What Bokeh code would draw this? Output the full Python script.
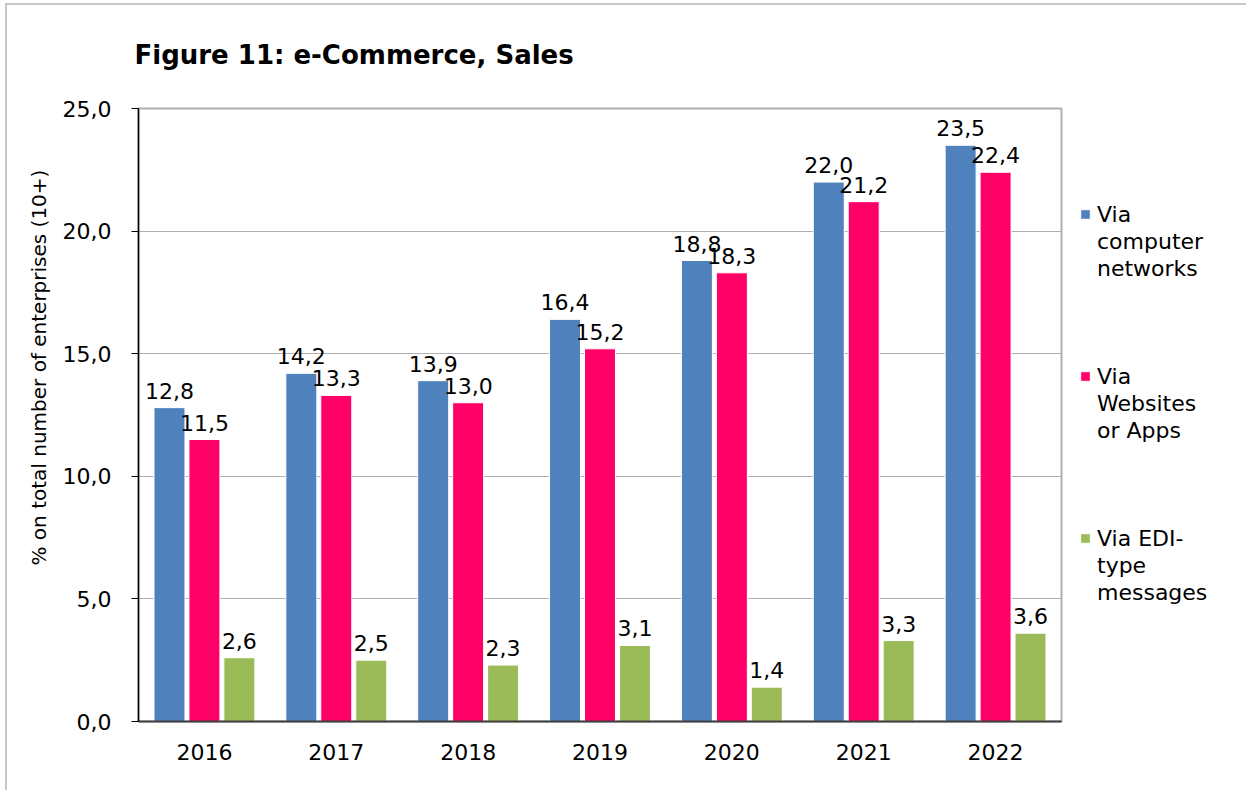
from bokeh.plotting import figure
from bokeh.models import (ColumnDataSource, FactorRange, Range1d, FixedTicker,
                          CustomJSTickFormatter, Legend, LegendItem, Title)
from bokeh.transform import dodge
from bokeh.core.properties import value
from bokeh.embed import file_html
from bokeh.resources import INLINE

# ---- data ----
years = ["2016", "2017", "2018", "2019", "2020", "2021", "2022"]
computer_networks = [12.8, 14.2, 13.9, 16.4, 18.8, 22.0, 23.5]
websites_apps = [11.5, 13.3, 13.0, 15.2, 18.3, 21.2, 22.4]
edi_messages = [2.6, 2.5, 2.3, 3.1, 1.4, 3.3, 3.6]
legend_lines = [["Via", "computer", "networks"],
                ["Via", "Websites", "or Apps"],
                ["Via EDI-", "type", "messages"]]
y_ticks = [0, 5, 10, 15, 20, 25]
title_text = "Figure  11: e-Commerce, Sales"
y_label = "% on total number of enterprises (10+)"

colors = ["#4F81BD", "#FF0066", "#9BBB59"]
FONT = "DejaVu Sans"
NB = "\u00a0"


def fmt(v):
    return f"{v:.1f}".replace(".", ",")


source = ColumnDataSource(data=dict(
    years=years,
    cn=computer_networks, wa=websites_apps, edi=edi_messages,
    cn_t=[fmt(v) for v in computer_networks],
    wa_t=[fmt(v) for v in websites_apps],
    edi_t=[fmt(v) for v in edi_messages],
))

p = figure(frame_width=923, frame_height=613, x_range=FactorRange(*years),
           y_range=Range1d(0, 25), output_backend="svg", toolbar_location=None,
           min_border_left=131, min_border_right=181, min_border_top=103,
           min_border_bottom=69, background_fill_color="white",
           border_fill_color="white", title=None,
           styles={"margin-left": "5px", "margin-top": "3px",
                   "border-left": "2px solid #c8c8c8", "border-top": "2px solid #c8c8c8"})

offsets = [-0.265, 0.0, 0.265]
fields = ["cn", "wa", "edi"]
renderers = []
for off, f, c in zip(offsets, fields, colors):
    r = p.vbar(x=dodge("years", off, range=p.x_range), top=f, width=0.235,
               source=source, fill_color=c, line_color="white", line_width=1)
    renderers.append(r)
    p.text(x=dodge("years", off, range=p.x_range), y=f, text=f + "_t",
           source=source, text_align="center", text_baseline="alphabetic",
           y_offset=-17, text_font=value(FONT), text_font_size="22px",
           text_color="black")

# invisible renderer used for legend continuation lines
blank = p.vbar(x=[], top=[], width=0.2, fill_alpha=0, line_alpha=0)

# axes
p.yaxis.ticker = FixedTicker(ticks=y_ticks)
p.yaxis.formatter = CustomJSTickFormatter(code="return tick.toFixed(1).replace('.', ',');")
p.yaxis.axis_line_color = "black"
p.yaxis.axis_line_width = 1.5
p.yaxis.major_tick_line_color = "black"
p.yaxis.major_tick_out = 7
p.yaxis.major_tick_in = 0
p.yaxis.minor_tick_line_color = None
p.yaxis.major_label_text_font = FONT
p.yaxis.major_label_text_font_size = "22px"
p.yaxis.major_label_text_color = "black"
p.yaxis.major_label_standoff = 20

p.xaxis.axis_line_color = "#404040"
p.xaxis.axis_line_width = 2
p.xaxis.major_tick_line_color = None
p.xaxis.minor_tick_line_color = None
p.xaxis.major_label_text_font = FONT
p.xaxis.major_label_text_font_size = "22px"
p.xaxis.major_label_text_color = "black"
p.xaxis.major_label_standoff = 16

p.xgrid.grid_line_color = None
p.ygrid.grid_line_color = "#b0b0b0"
p.ygrid.grid_line_width = 1
p.outline_line_color = "#b0b0b0"
p.outline_line_width = 2

# title (spacer between frame and title)
p.add_layout(Title(text=" ", text_font_size="20px"), "above")
p.add_layout(Title(text=title_text, align="left", offset=-4, text_font=FONT,
                   text_font_size="26px", text_font_style="bold",
                   text_color="black"), "above")

# y label (spacer between axis and label)
p.add_layout(Title(text=" ", text_font_size="2px", standoff=0), "left")
p.add_layout(Title(text=y_label, align="left", offset=156, text_font=FONT,
                   text_font_size="20px", text_font_style="normal",
                   text_color="black"), "left")

# legend: one item per text line, swatch on the first line of each entry
items = [LegendItem(label=NB, renderers=[blank])]
n = len(renderers)
for i, (r, lines) in enumerate(zip(renderers, legend_lines)):
    items.append(LegendItem(label=lines[0], renderers=[r]))
    for ln in lines[1:]:
        items.append(LegendItem(label=ln, renderers=[blank]))
    if i < n - 1:
        for _ in range(3):
            items.append(LegendItem(label=NB, renderers=[blank]))
items.append(LegendItem(label=NB + "\n" + NB, renderers=[blank]))

legend = Legend(items=items, location="left", glyph_width=12, glyph_height=12,
                label_standoff=6, spacing=0, padding=0, margin=18,
                label_height=27, border_line_alpha=0, background_fill_alpha=0,
                label_text_font=FONT, label_text_font_size="22px",
                label_text_color="black")
p.add_layout(legend, "right")

open("out.html", "w").write(file_html(p, INLINE))
